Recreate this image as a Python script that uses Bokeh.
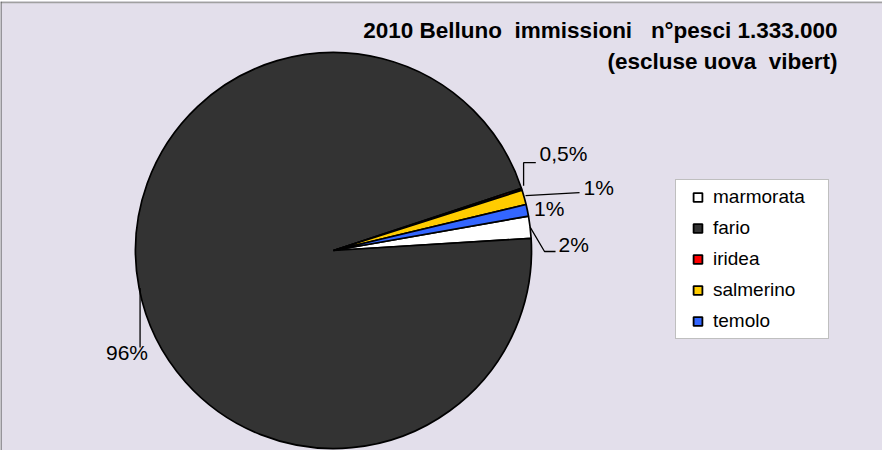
import numpy as np
from bokeh.plotting import figure
from bokeh.models import Range1d, ColumnDataSource, Legend, LegendItem, Span
from bokeh.core.properties import value
from bokeh.embed import file_html
from bokeh.resources import INLINE

# ---- data ----
categories = ["marmorata", "fario", "iridea", "salmerino", "temolo"]
shares = [1.8, 95.9, 0.15, 1.2, 0.95]          # percent of fish stocked
label_texts = ["2%", "96%", "0,5%", "1%", "1%"]
title_lines = ["2010 Belluno\u00a0 immissioni\u00a0\u00a0 n°pesci 1.333.000",
               "(escluse uova\u00a0 vibert)"]

# ---- styles / layout ----
colors = ["#ffffff", "#333333", "#ff0000", "#ffcc00", "#3366ff"]
FONT = "Liberation Sans"
BG = "#e3dfeb"
CX, CY, R = 341, 200, 198
FIRST_ANGLE = 10.0   # degrees, first slice starts here and goes clockwise

# leader polylines and label anchors, relative to slice mid-point on the rim
leaders = [
    [(0, 0), (14.4, -24.3), (25.4, -24.3)],
    [(1, 0), (1, -59.6)],
    [(1.8, 3.6), (1.8, 26.6), (14, 26.6)],
    [(1.3, 1.6), (55.3, 4.6)],
    [],
]
label_offsets = [(28.4, -17.8), (-12.1, -64.6), (17.8, 35.6), (59.3, 10.1), (6.6, 1.7)]
label_align = ["left", "center", "left", "left", "left"]

W, H = 882, 450
p = figure(width=W, height=H, output_backend="svg", toolbar_location=None,
           x_range=Range1d(8, 8 + W), y_range=Range1d(0, H - 1),
           x_axis_location=None, y_axis_location=None, title=None,
           min_border_top=1, min_border_left=0, min_border_right=0, min_border_bottom=0,
           background_fill_color=BG, border_fill_color="white", outline_line_color=None)
p.grid.visible = False

fr = np.array(shares) / np.sum(shares)
cum = np.concatenate([[0.0], np.cumsum(fr)])
a0 = np.radians(FIRST_ANGLE)
start = a0 - 2 * np.pi * cum[:-1]
end = a0 - 2 * np.pi * cum[1:]
mid = (start + end) / 2

src = ColumnDataSource(dict(cat=categories, start=start, end=end, color=colors))
p.wedge(x=CX, y=CY, radius=R, start_angle="start", end_angle="end", direction="clock",
        fill_color="color", line_color="black", line_width=1.7, source=src)

rim_x = CX + R * np.cos(mid)
rim_y = CY + R * np.sin(mid)

xs, ys = [], []
for i, pts in enumerate(leaders):
    if pts:
        xs.append([rim_x[i] + dx for dx, dy in pts])
        ys.append([rim_y[i] + dy for dx, dy in pts])
p.multi_line(xs=xs, ys=ys, line_color="black", line_width=1.3)

for al in ["left", "center"]:
    idx = [i for i in range(len(categories)) if label_align[i] == al]
    p.text(x=[rim_x[i] + label_offsets[i][0] for i in idx],
           y=[rim_y[i] + label_offsets[i][1] for i in idx],
           text=[label_texts[i] for i in idx],
           text_font=value(FONT), text_font_size="21px", text_color="black",
           text_align=al, text_baseline="middle")

# title
p.text(x=[845, 845], y=[420.5, 389.5], text=title_lines, text_font=value(FONT),
       text_font_size="22.5px", text_font_style="bold", text_color="black",
       text_align="right", text_baseline="middle")

# chart area borders
p.add_layout(Span(location=448.2, dimension="width", line_color="#a0a0a0", line_width=2))
p.add_layout(Span(location=8.5, dimension="height", line_color="#4a4a4a", line_width=1))

# legend with square swatches
items = []
for c, col in zip(categories, colors):
    r = p.scatter(x=[np.nan], y=[np.nan], marker="square", fill_color=col,
                  line_color="black", line_width=1.8)
    items.append(LegendItem(label=c, renderers=[r]))
legend = Legend(items=items, location=(675, 111), padding=6, spacing=9,
                glyph_width=31, glyph_height=22, label_height=22, label_width=109,
                label_standoff=0, label_text_font=FONT, label_text_font_size="19px",
                label_text_color="black", border_line_color="#808080", border_line_width=1,
                background_fill_color="white", background_fill_alpha=1.0, margin=0)
p.add_layout(legend)

open("out.html", "w").write(file_html(p, INLINE))
